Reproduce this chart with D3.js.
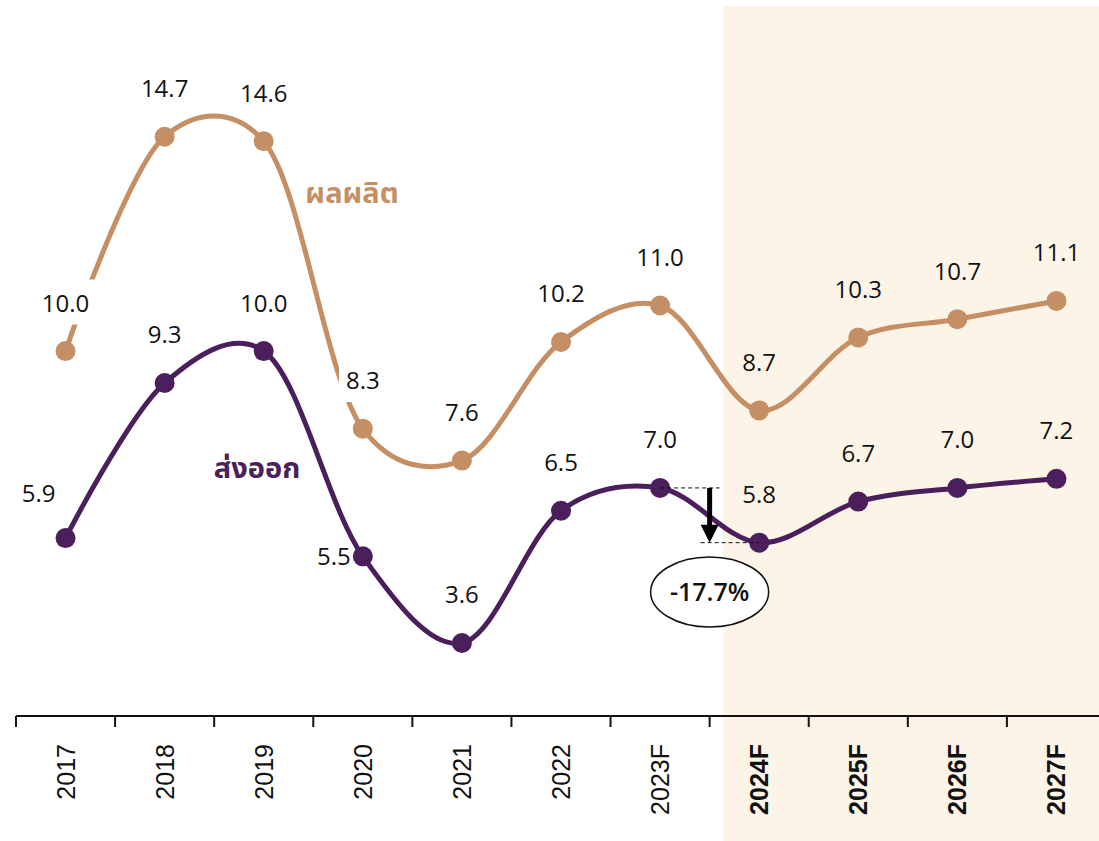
<!DOCTYPE html>
<html>
<head>
<meta charset="utf-8">
<script src="https://cdn.jsdelivr.net/npm/d3@7"></script>
<style>
  html, body { margin: 0; padding: 0; background: #fff; }
  svg { display: block; }
  .val { font-family: "Open Sans", "Noto Sans", sans-serif; font-size: 24px; fill: #111; }
  .tick-lbl { font-family: "Liberation Sans", Arial, sans-serif; font-size: 25px; fill: #111; }
  .series-lbl { font-family: "Noto Sans Thai", "Noto Sans", sans-serif; font-size: 29px; font-weight: bold; }
</style>
</head>
<body>
<script>
// categories and values
const years = ['2017', '2018', '2019', '2020', '2021', '2022', '2023F', '2024F', '2025F', '2026F', '2027F'];
const production = [10.0, 14.7, 14.6, 8.3, 7.6, 10.2, 11.0, 8.7, 10.3, 10.7, 11.1];
const exports = [5.9, 9.3, 10.0, 5.5, 3.6, 6.5, 7.0, 5.8, 6.7, 7.0, 7.2];
const forecastYears = ['2024F', '2025F', '2026F', '2027F'];
const changeLabel = '-17.7%';

const W = 1099, H = 841;
const PROD_COLOR = '#c58f65';
const EXP_COLOR = '#4b1f5c';
const SHADE = '#fdf4e8';

const svg = d3.select('body').append('svg')
  .attr('width', W)
  .attr('height', H);

const x = d3.scaleBand().domain(years).range([16, 1106]).paddingInner(0).paddingOuter(0);
const y = d3.scaleLinear().domain([2, 17.5]).range([716, 9]);
const cx = (d) => x(d) + x.bandwidth() / 2;

// forecast shading
svg.append('rect')
  .attr('x', 723)
  .attr('y', 6)
  .attr('width', W - 723)
  .attr('height', H - 6)
  .attr('fill', SHADE);

// axis
const axis = svg.append('g').attr('transform', `translate(0,${y(2)})`);
axis.append('line')
  .attr('x1', 16).attr('x2', W)
  .attr('stroke', '#111').attr('stroke-width', 2);
axis.selectAll('line.tk')
  .data(years)
  .join('line')
  .attr('class', 'tk')
  .attr('x1', (d) => x(d)).attr('x2', (d) => x(d))
  .attr('y1', 0).attr('y2', 11)
  .attr('stroke', '#111').attr('stroke-width', 2);
axis.selectAll('text')
  .data(years)
  .join('text')
  .attr('class', 'tick-lbl')
  .attr('transform', (d) => `translate(${cx(d) + 9},28) rotate(-90)`)
  .attr('text-anchor', 'end')
  .style('font-weight', (d) => (forecastYears.includes(d) ? 'bold' : 'normal'))
  .text((d) => d);

const line = d3.line()
  .x((d) => cx(d.year))
  .y((d) => y(d.v))
  .curve(d3.curveCatmullRom.alpha(0.2));

const series = [
  { key: 'prod', values: production, color: PROD_COLOR },
  { key: 'exp', values: exports, color: EXP_COLOR }
];

series.forEach((s) => {
  const pts = years.map((yr, i) => ({ year: yr, v: s.values[i] }));
  svg.append('path')
    .datum(pts)
    .attr('d', line)
    .attr('fill', 'none')
    .attr('stroke', s.color)
    .attr('stroke-width', 5);
});

// value labels; centred ones get a box that cuts the line like the original
const labelOffset = {
  'exp-2017': [-27, 3],
  'exp-2020': [-29, 48]
};
series.forEach((s) => {
  years.forEach((yr, i) => {
    const off = labelOffset[`${s.key}-${yr}`];
    const lx = cx(yr) + (off ? off[0] : 0);
    const ly = y(s.values[i]) - 48 + (off ? off[1] : 0);
    const g = svg.append('g').attr('transform', `translate(${lx},${ly})`);
    const t = g.append('text')
      .attr('class', 'val')
      .attr('text-anchor', 'middle')
      .attr('dy', '0.35em')
      .text(s.values[i].toFixed(1));
    if (!off) {
      const bb = t.node().getBBox();
      g.insert('rect', 'text')
        .attr('x', bb.x - 7).attr('y', bb.y - 6)
        .attr('width', bb.width + 14).attr('height', bb.height + 12)
        .attr('fill', lx > 723 ? SHADE : '#fff');
    }
  });
});

// dots on top
series.forEach((s) => {
  svg.append('g')
    .selectAll('circle')
    .data(years)
    .join('circle')
    .attr('cx', (d) => cx(d))
    .attr('cy', (d, i) => y(s.values[i]))
    .attr('r', 10)
    .attr('fill', s.color);
});

// series names
svg.append('text')
  .attr('class', 'series-lbl')
  .attr('x', 352).attr('y', 203)
  .attr('text-anchor', 'middle')
  .attr('fill', PROD_COLOR)
  .text('ผลผลิต');
svg.append('text')
  .attr('class', 'series-lbl')
  .attr('x', 257).attr('y', 478)
  .attr('text-anchor', 'middle')
  .attr('fill', EXP_COLOR)
  .text('ส่งออก');

// change annotation 2023F -> 2024F
const yA = y(exports[6]);
const yB = y(exports[7]);
const ax = x('2024F');
svg.append('line')
  .attr('x1', cx('2023F')).attr('x2', ax + 10)
  .attr('y1', yA).attr('y2', yA)
  .attr('stroke', '#111').attr('stroke-width', 1).attr('stroke-dasharray', '4,3');
svg.append('line')
  .attr('x1', ax - 9).attr('x2', cx('2024F'))
  .attr('y1', yB).attr('y2', yB)
  .attr('stroke', '#111').attr('stroke-width', 1).attr('stroke-dasharray', '4,3');
svg.append('line')
  .attr('x1', ax).attr('x2', ax)
  .attr('y1', yA).attr('y2', yB - 14)
  .attr('stroke', '#000').attr('stroke-width', 5);
svg.append('path')
  .attr('d', `M${ax - 9},${yB - 18} L${ax + 9},${yB - 18} L${ax},${yB} Z`)
  .attr('fill', '#000');

svg.append('ellipse')
  .attr('cx', ax).attr('cy', 592)
  .attr('rx', 59).attr('ry', 35)
  .attr('fill', '#fff')
  .attr('stroke', '#111').attr('stroke-width', 1.5);
svg.append('text')
  .attr('x', ax).attr('y', 592)
  .attr('dy', '0.35em')
  .attr('text-anchor', 'middle')
  .style('font-family', '"Open Sans", "Noto Sans", sans-serif')
  .style('font-size', '25px')
  .style('font-weight', 600)
  .attr('fill', '#111')
  .text(changeLabel);
</script>
</body>
</html>
